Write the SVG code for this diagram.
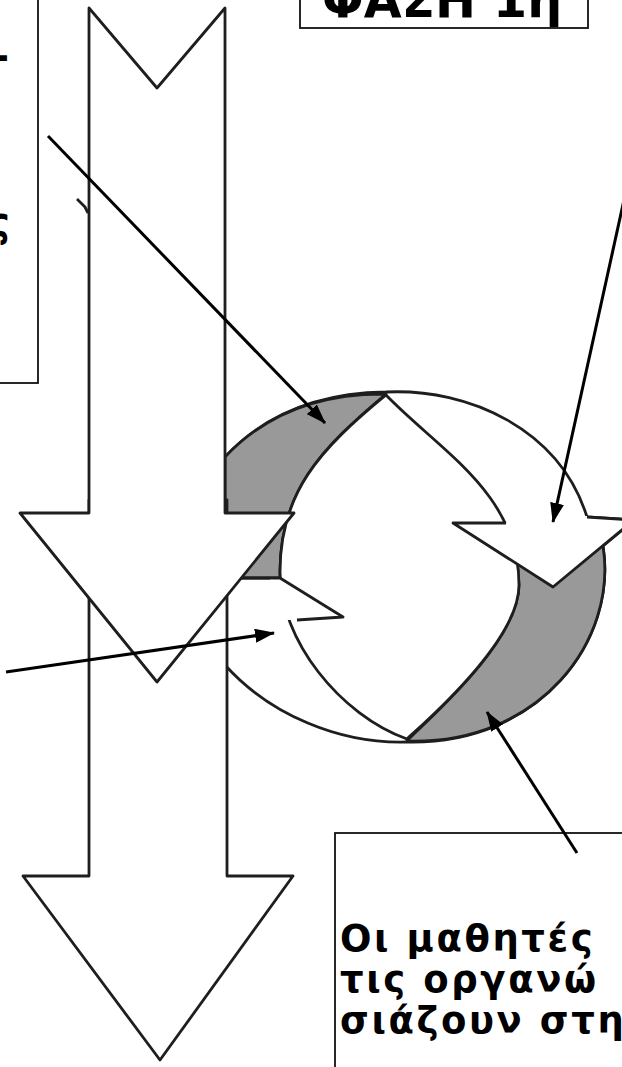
<svg xmlns="http://www.w3.org/2000/svg" width="622" height="1067" viewBox="0 0 622 1067">
<style>
.ol{stroke:#1e1e1e;stroke-width:2.8;stroke-linejoin:round;fill:#fff}
.gr{stroke:#1e1e1e;stroke-width:2.8;stroke-linejoin:round;fill:#999}
.ln{stroke:#1e1e1e;stroke-width:2.8;stroke-linejoin:round;fill:none}
.nf{fill:#fff;stroke:none}
.box{fill:#fff;stroke:#111;stroke-width:1.8}
.con{stroke:#000;stroke-width:3;fill:none}
.t{font-family:"DejaVu Sans","Noto Sans",sans-serif;font-weight:bold;fill:#000}
.bt{font-size:37px;letter-spacing:2.6px}
</style>
<defs>
<marker id="ah" viewBox="0 0 20 14" refX="19" refY="7" markerWidth="20" markerHeight="14" markerUnits="userSpaceOnUse" orient="auto">
<path d="M0,0 L20,7 L0,14 z" fill="#000"/>
</marker>
</defs>
<rect width="622" height="1067" fill="#fff"/>

<g id="box-topleft">
<rect class="box" x="-20" y="-20" width="58" height="403"/>
<text class="t" x="9" y="70" font-size="40" text-anchor="end">-</text>
<text class="t" x="10" y="236" font-size="40" text-anchor="end">ς</text>
</g>

<g id="box-phase">
<rect class="box" x="300" y="-20" width="288" height="48"/>
<text class="t" x="322" y="17" font-size="49">ΦΑΣΗ 1η</text>
</g>

<g id="cycle">
<path class="ol" d="M386,392 C470,388 560,430 587,517 L634,520 L603,546 C618,640 540,745 407,742 C340,744 270,715 225,665 L180,600 L225,457 C255,425 305,393 386,392 Z"/>
<path class="gr" d="M225,457 C255,425 305,393 386,394 C319,450 280,493 280,572 L280,578 L225,578 Z"/>
<path class="gr" d="M603,546 C618,640 540,745 407,741 C418,728 519,644 519,585 L517,560 L598,542 Z"/>
<path class="ol" d="M386,395 C440,451 519,493 519,585 C519,644 418,728 407,739 C340,715 280,640 280,572 C280,493 319,450 386,395 Z"/>
<path class="nf" d="M453,523 L506,523 L587,516 L634,520 L553,587 Z"/>
<path class="ln" d="M506,523 L453,523 L553,587 L634,520 L587,517"/>
<path class="nf" d="M270,579 L281,579 L343,617 L297,620 L270,620 Z"/>
<path class="ln" d="M240,578 L280,578 L343,617 L297,620"/>
</g>

<g id="arrow-lower">
<path class="ol" d="M89,500 L89,876 L23,876 L160,1060 L293,876 L227,876 L227,500 Z"/>
</g>

<g id="arrow-upper">
<path class="ol" d="M89,8 L157,88 L225,8 L225,513 L294,513 L157,682 L20,513 L89,513 Z"/>
<path class="ln" d="M77,199 L85,207 L88,213"/>
</g>

<g id="box-bottom">
<rect class="box" x="335" y="833" width="320" height="260"/>
<text class="t bt" x="340" y="951">Οι μαθητές</text>
<text class="t bt" x="340" y="992">τις οργανώ</text>
<text class="t bt" x="340" y="1033">σιάζουν στη</text>
</g>

<g id="connectors">
<line class="con" x1="48" y1="136" x2="325" y2="423" marker-end="url(#ah)"/>
<line class="con" x1="624" y1="200" x2="553" y2="522" marker-end="url(#ah)"/>
<line class="con" x1="6" y1="672" x2="274" y2="633" marker-end="url(#ah)"/>
<line class="con" x1="577" y1="853" x2="487" y2="712" marker-end="url(#ah)"/>
</g>
</svg>
